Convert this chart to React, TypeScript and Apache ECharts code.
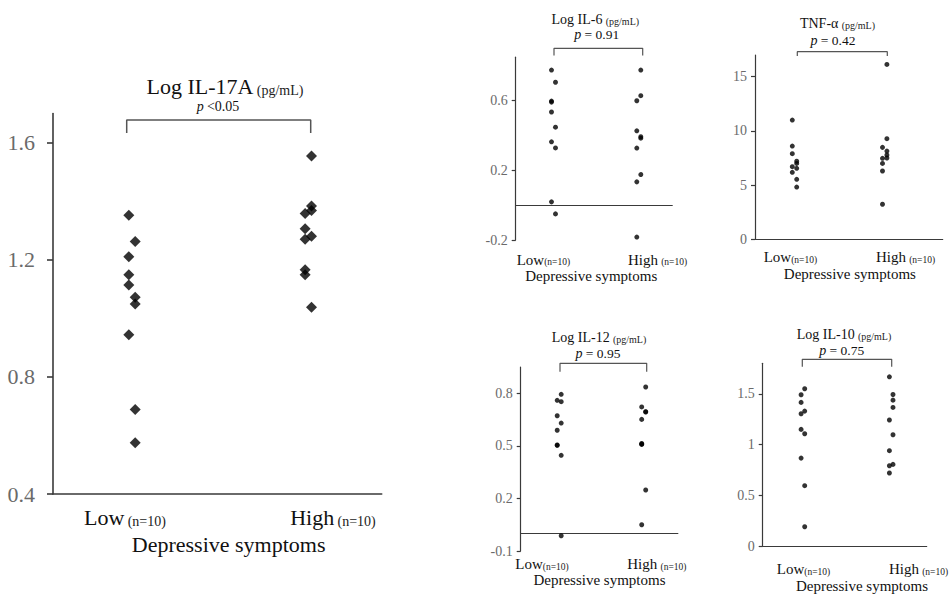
import React, { useEffect, useRef } from "react";
import * as echarts from "echarts";

const FONT = "'Liberation Serif', 'Times New Roman', serif";

// ---- data ----
const groupLabels = ["Low", "High"];
const xAxisName = "Depressive symptoms";

const il17Low = [1.352, 1.263, 1.211, 1.149, 1.114, 1.072, 1.049, 0.944, 0.689, 0.575];
const il17High = [1.555, 1.384, 1.369, 1.358, 1.306, 1.281, 1.27, 1.166, 1.149, 1.038];
const il17LowSide = [-1, 1, -1, -1, -1, 1, 1, -1, 1, 1];
const il17HighSide = [1, 1, 1, -1, -1, 1, -1, -1, -1, 1];
const il17Ticks = [0.4, 0.8, 1.2, 1.6];

const il6Low = [0.776, 0.706, 0.598, 0.592, 0.535, 0.448, 0.364, 0.329, 0.019, -0.05];
const il6High = [0.776, 0.629, 0.6, 0.427, 0.393, 0.385, 0.328, 0.176, 0.134, -0.183];
const il6LowSide = [-1, 1, -1, -1, -1, 1, -1, 1, -1, 1];
const il6HighSide = [1, 1, -1, -1, 1, 1, -1, 1, -1, -1];
const il6Ticks = [-0.2, 0.2, 0.6];

const tnfLow = [11.0, 8.6, 7.9, 7.2, 7.0, 6.7, 6.55, 6.18, 5.53, 4.82];
const tnfHigh = [16.13, 9.28, 8.48, 8.14, 7.78, 7.5, 7.47, 7.0, 6.3, 3.23];
const tnfLowSide = [-1, -1, -1, 1, 1, -1, 1, -1, 1, 1];
const tnfHighSide = [1, 1, -1, 1, 1, 1, -1, -1, -1, -1];
const tnfTicks = [0, 5, 10, 15];

const il12Low = [0.794, 0.76, 0.752, 0.672, 0.63, 0.589, 0.505, 0.503, 0.446, -0.013];
const il12High = [0.836, 0.722, 0.695, 0.693, 0.651, 0.514, 0.51, 0.508, 0.248, 0.05];
const il12LowSide = [1, -1, 1, -1, 1, -1, -1, -1, 1, 1];
const il12HighSide = [1, -1, 1, 1, -1, -1, -1, -1, 1, -1];
const il12Ticks = [-0.1, 0.2, 0.5, 0.8];

const il10Low = [1.549, 1.49, 1.415, 1.329, 1.303, 1.149, 1.106, 0.866, 0.594, 0.19];
const il10High = [1.667, 1.493, 1.437, 1.365, 1.241, 1.096, 0.939, 0.804, 0.791, 0.719];
const il10LowSide = [1, -1, -1, 1, -1, -1, 1, -1, 1, 1];
const il10HighSide = [-1, 1, 1, 1, -1, 1, -1, 1, -1, -1];
const il10Ticks = [0, 0.5, 1, 1.5];

const titles = ["Log IL-17A", "Log IL-6", "TNF-α", "Log IL-12", "Log IL-10"];
const unit = "(pg/mL)";
const pTexts = ["<0.05", "= 0.91", "= 0.42", "= 0.95", "= 0.75"];

const panelData = [
  { low: il17Low, high: il17High, lowSide: il17LowSide, highSide: il17HighSide, ticks: il17Ticks },
  { low: il6Low, high: il6High, lowSide: il6LowSide, highSide: il6HighSide, ticks: il6Ticks },
  { low: tnfLow, high: tnfHigh, lowSide: tnfLowSide, highSide: tnfHighSide, ticks: tnfTicks },
  { low: il12Low, high: il12High, lowSide: il12LowSide, highSide: il12HighSide, ticks: il12Ticks },
  { low: il10Low, high: il10High, lowSide: il10LowSide, highSide: il10HighSide, ticks: il10Ticks },
];

// ---- layout (pixels) ----
const layouts = [
  {
    A: 53, E: 381.7, top: 113.5, bottom: 494, yMin: 0.4, yMax: 1.7,
    lowPx: 132, highPx: 308.3, jit: 3.2, labLow: 125, labHigh: 333, labMargin: 10,
    nameShift: 11.3, nameGap: 38, big: true, zero: false,
    br: { l: 126.7, r: 310.7, t: 120, b: 133 },
    titleX: 225, titleY: 85, pX: 218, pY: 106,
  },
  {
    A: 515.7, E: 672.7, top: 57.2, bottom: 240, yMin: -0.2, yMax: 0.85,
    lowPx: 553.5, highPx: 638.8, jit: 2, labLow: 543.4, labHigh: 657.5, labMargin: 11,
    nameShift: -3, nameGap: 28, big: false, zero: true,
    br: { l: 554, r: 642.7, t: 48.3, b: 55.5 },
    titleX: 595.3, titleY: 20.5, pX: 596.7, pY: 34,
  },
  {
    A: 755, E: 942.7, top: 55, bottom: 239.3, yMin: 0, yMax: 17,
    lowPx: 794.5, highPx: 884.7, jit: 2.2, labLow: 790.4, labHigh: 905.5, labMargin: 9.5,
    nameShift: 1, nameGap: 24.5, big: false, zero: false,
    br: { l: 797.3, r: 887.3, t: 51.7, b: 56 },
    titleX: 837.5, titleY: 24, pX: 833, pY: 40,
  },
  {
    A: 520.7, E: 678.3, top: 367, bottom: 551, yMin: -0.1, yMax: 0.95,
    lowPx: 559.2, highPx: 643.7, jit: 2, labLow: 542, labHigh: 656.9, labMargin: 4.5,
    nameShift: 0, nameGap: 20, big: false, zero: true,
    br: { l: 560, r: 646.7, t: 363.3, b: 371.7 },
    titleX: 599, titleY: 338.3, pX: 598, pY: 353.3,
  },
  {
    A: 762.7, E: 926.7, top: 363.3, bottom: 546, yMin: 0, yMax: 1.8,
    lowPx: 802.9, highPx: 891.2, jit: 1.8, labLow: 803.5, labHigh: 918.5, labMargin: 14.5,
    nameShift: 17.3, nameGap: 32, big: false, zero: false,
    br: { l: 802.3, r: 891.7, t: 359.3, b: 366.7 },
    titleX: 844, titleY: 335, pX: 841.7, pY: 350,
  },
];

function fmtNum(v: number) {
  return String(Number(v.toFixed(2)));
}

function buildOption() {
  const grid: any[] = [];
  const xAxis: any[] = [];
  const yAxis: any[] = [];
  const series: any[] = [];
  const graphic: any[] = [];

  layouts.forEach((L, i) => {
    const D = panelData[i];
    const d = L.highPx - L.lowPx;
    const toX = (px: number) => (px - L.lowPx) / d;
    const toY = (py: number) => L.yMax - ((py - L.top) / (L.bottom - L.top)) * (L.yMax - L.yMin);
    const axisW = L.big ? 1.6 : 1.2;
    const axisColor = "#3a3a3a";
    const labelSize = L.big ? 22 : 15;
    const smallSize = L.big ? 14 : 9.5;
    const lh = L.big ? 24 : 16;
    const tlh = L.big ? 24 : 12;

    grid.push({
      left: L.A, top: L.top, width: L.E - L.A, height: L.bottom - L.top,
      containLabel: false, outerBoundsMode: "none",
    });

    xAxis.push({
      gridIndex: i, type: "value",
      min: toX(L.A), max: toX(L.E),
      axisLine: { show: !L.zero, onZero: false, lineStyle: { color: axisColor, width: axisW } },
      axisTick: { show: false },
      splitLine: { show: false },
      axisLabel: {
        customValues: [toX(L.labLow), toX(L.labHigh)],
        margin: L.labMargin,
        formatter: (v: number) =>
          v < 0.5
            ? (L.big ? `{a|${groupLabels[0]}} {b|(n=10)}` : `{a|${groupLabels[0]}}{b|(n=10)}`)
            : `{a|${groupLabels[1]}} {b|(n=10)}`,
        rich: {
          a: { fontFamily: FONT, fontSize: labelSize, color: "#111", lineHeight: lh, verticalAlign: "bottom" },
          b: { fontFamily: FONT, fontSize: smallSize, color: "#222", lineHeight: lh, verticalAlign: "bottom" },
        },
      },
      name: xAxisName,
      nameLocation: "middle",
      nameGap: L.nameGap,
      nameTextStyle: {
        fontFamily: FONT, fontSize: labelSize, color: "#111", lineHeight: lh,
        padding: L.nameShift >= 0 ? [0, 0, 0, 2 * L.nameShift] : [0, -2 * L.nameShift, 0, 0],
      },
    });

    yAxis.push({
      gridIndex: i, type: "value", min: L.yMin, max: L.yMax,
      axisLine: { show: true, onZero: false, lineStyle: { color: axisColor, width: axisW } },
      axisTick: { show: true, customValues: D.ticks, length: L.big ? 6 : 4, lineStyle: { color: axisColor, width: axisW } },
      axisLabel: {
        customValues: D.ticks,
        margin: L.big ? 18 : 8,
        fontFamily: FONT, fontSize: L.big ? 22 : 14, color: "#6a6a6a",
        formatter: (v: number) => fmtNum(v),
      },
      splitLine: { show: false },
    });

    const pts: any[] = [];
    D.low.forEach((v, k) => pts.push({ value: [0, v], symbolOffset: [D.lowSide[k] * L.jit, 0] }));
    D.high.forEach((v, k) => pts.push({ value: [1, v], symbolOffset: [D.highSide[k] * L.jit, 0] }));

    series.push({
      type: "scatter", xAxisIndex: i, yAxisIndex: i,
      symbol: L.big ? "diamond" : "circle",
      symbolSize: L.big ? 11 : 5,
      itemStyle: { color: "#000" },
      data: pts, z: 5, silent: true,
      markLine: L.zero
        ? {
            silent: true, symbol: "none", label: { show: false },
            lineStyle: { color: axisColor, width: axisW, type: "solid" },
            data: [{ yAxis: 0 }],
          }
        : undefined,
    });

    series.push({
      type: "line", xAxisIndex: i, yAxisIndex: i, clip: false, silent: true,
      symbol: "none",
      lineStyle: { color: "#555", width: L.big ? 1.5 : 1.2 },
      data: [
        [toX(L.br.l), toY(L.br.b)],
        [toX(L.br.l), toY(L.br.t)],
        [toX(L.br.r), toY(L.br.t)],
        [toX(L.br.r), toY(L.br.b)],
      ],
      z: 3,
    });

    graphic.push({
      type: "text", x: L.titleX, y: L.titleY,
      style: {
        text: `{a|${titles[i]}} {b|${unit}}`,
        align: "center", verticalAlign: "middle",
        rich: {
          a: { fontFamily: FONT, fontSize: L.big ? 22 : 14, fill: "#111", lineHeight: tlh, verticalAlign: "bottom" },
          b: { fontFamily: FONT, fontSize: L.big ? 14 : 10, fill: "#222", lineHeight: tlh, verticalAlign: "bottom" },
        },
      },
    });
    graphic.push({
      type: "text", x: L.pX, y: L.pY,
      style: {
        text: `{i|p} {t|${pTexts[i]}}`,
        align: "center", verticalAlign: "middle",
        rich: {
          i: { fontFamily: FONT, fontSize: 14, fontStyle: "italic", fill: "#111", lineHeight: tlh },
          t: { fontFamily: FONT, fontSize: L.big ? 14 : 13.5, fill: "#111", lineHeight: tlh },
        },
      },
    });
  });

  return {
    animation: false,
    backgroundColor: "#ffffff",
    grid, xAxis, yAxis, series, graphic,
  };
}

export default function App() {
  const ref = useRef<HTMLDivElement>(null);
  useEffect(() => {
    document.body.style.margin = "0";
    if (!ref.current) return;
    const chart = echarts.init(ref.current, undefined, { renderer: "svg" });
    chart.setOption(buildOption() as any);
    return () => chart.dispose();
  }, []);
  return <div ref={ref} style={{ width: 950, height: 598 }} />;
}
